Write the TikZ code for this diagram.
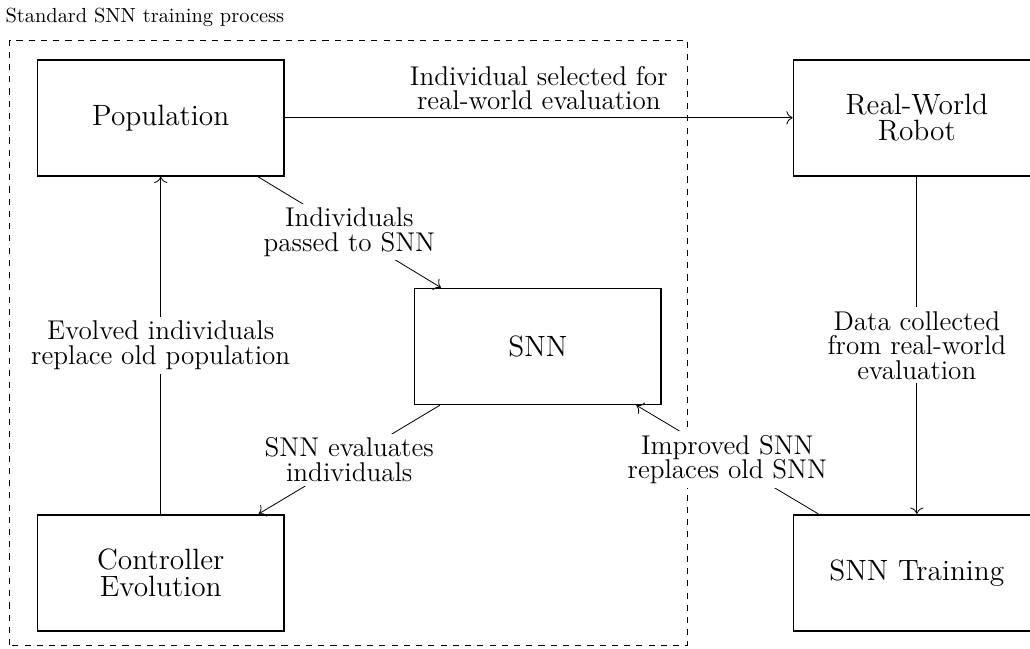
\documentclass[tikz,border=0pt]{standalone}
\usetikzlibrary{arrows.meta}
\begin{document}
\begin{tikzpicture}[line width=0.4pt, >={To[scale=1.25]},
  box/.style={draw, line width=0.8pt, minimum width=4.25cm, minimum height=2cm, align=center, font=\fontsize{14.4}{13}\selectfont},
  lbl/.style={fill=white, align=center, font=\fontsize{13.3}{12}\selectfont, inner sep=2pt}]
  \useasboundingbox (0,0) rectangle (17.75,11.17);
  % dashed frame round the standard loop
  \draw[dashed] (0.17,0.05) rectangle (11.85,10.48);
  \node[anchor=west, inner sep=0pt] (title) at (0.09,10.87) {Standard SNN training process};
  \node[box] (pop) at (2.77,9.14) {Population};
  \node[box] (robot) at (15.80,9.14) {Real-World\\Robot};
  \node[box] (snn) at (9.27,5.20) {SNN};
  \node[box] (evo) at (2.77,1.30) {Controller\\Evolution};
  \node[box] (train) at (15.80,1.30) {SNN Training};
  \draw[->] (pop) -- node[lbl, fill=none, above, yshift=1.5pt] {Individual selected for\\real-world evaluation} (robot);
  \draw[->] (pop) -- node[lbl] {Individuals\\passed to SNN} (snn);
  \draw[->] (snn) -- node[lbl] {SNN evaluates\\individuals} (evo);
  \draw[->] (evo) -- node[lbl] {Evolved individuals\\replace old population} (pop);
  \draw[->] (robot) -- node[lbl] {Data collected\\from real-world\\evaluation} (train);
  \draw[->] (train) -- node[lbl] {Improved SNN\\replaces old SNN} (snn);
\end{tikzpicture}
\end{document}
